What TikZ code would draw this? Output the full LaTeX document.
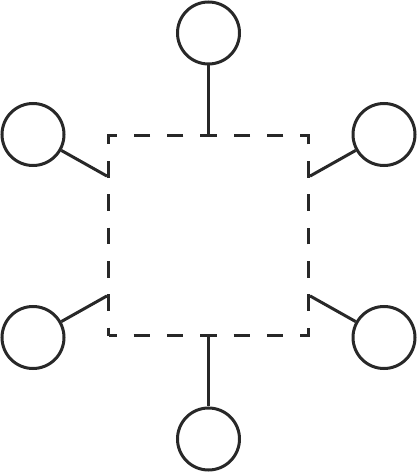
\documentclass[tikz,border=0pt]{standalone}
\usepackage{tikz}
\usetikzlibrary{positioning}
\definecolor{hubgray}{RGB}{40,40,40}
\tikzstyle{hub} = [rectangle, draw=hubgray, line width=3pt, minimum size=200pt, inner sep=0pt, dash pattern=on 16.5pt off 16.83pt, dash phase=8.25pt]
\tikzstyle{leaf} = [circle, draw=hubgray, line width=3pt, minimum size=62pt, inner sep=0pt]
\tikzstyle{link} = [draw=hubgray, line width=3pt]

\begin{document}
\begin{tikzpicture}[x=1pt,y=1pt]
\useasboundingbox (0,0) rectangle (418,472);
% Dashed square
\node[hub] (box) at (208.5,236) {};

% Outer circles
\node[leaf] (top) at (208.5,439) {};
\node[leaf] (bottom) at (208.5,33) {};
\node[leaf] (lefttop) at (33,337.5) {};
\node[leaf] (leftbot) at (33,134.5) {};
\node[leaf] (righttop) at (384,337.5) {};
\node[leaf] (rightbot) at (384,134.5) {};

% Attach points on the square
\coordinate (lt) at ([yshift=-41.6pt]box.north west);
\coordinate (lb) at ([yshift=41.6pt]box.south west);
\coordinate (rt) at ([yshift=-41.6pt]box.north east);
\coordinate (rb) at ([yshift=41.6pt]box.south east);

% Connectors
\draw[link] (top) -- (box.north);
\draw[link] (bottom) -- (box.south);
\draw[link] (lefttop) -- (lt);
\draw[link] (leftbot) -- (lb);
\draw[link] (righttop) -- (rt);
\draw[link] (rightbot) -- (rb);
\end{tikzpicture}
\end{document}
